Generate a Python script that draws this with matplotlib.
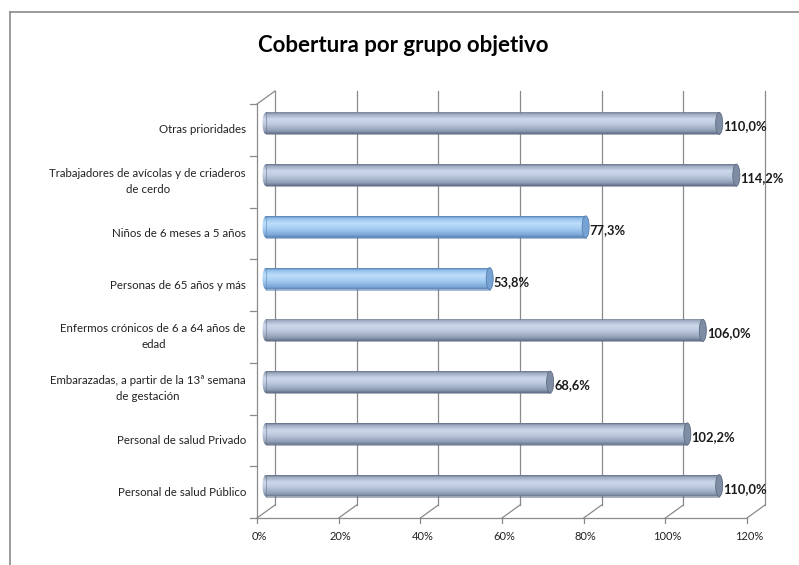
import matplotlib
matplotlib.use('Agg')
import matplotlib.pyplot as plt
import numpy as np
from matplotlib.patches import Rectangle, Ellipse, PathPatch
from matplotlib.path import Path
from matplotlib.lines import Line2D
from matplotlib.colors import LinearSegmentedColormap

title = "Cobertura por grupo objetivo"
categories = [
    "Personal de salud Público",
    "Personal de salud Privado",
    "Embarazadas, a partir de la 13ª semana\nde gestación",
    "Enfermos crónicos de 6 a 64 años de\nedad",
    "Personas de 65 años y más",
    "Niños de 6 meses a 5 años",
    "Trabajadores de avícolas y de criaderos\nde cerdo",
    "Otras prioridades",
]
values = [1.100, 1.022, 0.686, 1.060, 0.538, 0.773, 1.142, 1.100]
value_labels = ["110,0%", "102,2%", "68,6%", "106,0%", "53,8%", "77,3%", "114,2%", "110,0%"]
highlight = [False, False, False, False, True, True, False, False]
xticks = [0.0, 0.2, 0.4, 0.6, 0.8, 1.0, 1.2]
xtick_labels = ["0%", "20%", "40%", "60%", "80%", "100%", "120%"]

FONT = "Lato"
W, H = 799, 565
fig = plt.figure(figsize=(W / 100, H / 100), dpi=100)
fig.patch.set_facecolor("white")
ax = fig.add_axes([257 / W, 47 / H, 490 / W, 414 / H])
ax.set_xlim(0, 1.2)
ax.set_ylim(-0.5, len(categories) - 0.5)
ax.axis("off")

# pixel -> data conversion
inv = ax.transData.inverted()
p0 = ax.transData.transform((0, 0))
def px(dx, dy):
    d = inv.transform((p0[0] + dx, p0[1] + dy)) - inv.transform(p0)
    return d[0], d[1]

bdx, bdy = px(18, 13)      # back wall offset
mdx, mdy = px(9, 6.5)      # bar plane offset
edx, _ = px(13, 0)         # bar end (perspective) offset
ymin, ymax = -0.5, len(categories) - 0.5
gc = "#8a8a8a"
lw = 0.9

def line(xs, ys, **kw):
    ax.add_line(Line2D(xs, ys, color=kw.get("color", gc), lw=kw.get("lw", lw), clip_on=False, zorder=1))

# walls / grid
for t, lab in zip(xticks, xtick_labels):
    line([t, t + bdx], [ymin, ymin + bdy])
    line([t + bdx, t + bdx], [ymin + bdy, ymax + bdy])
    line([t, t], [ymin, ymin + px(0, -5)[1]])
    ax.text(t + px(2, 0)[0], ymin + px(0, -18)[1], lab, ha="center", va="center",
            fontsize=8, family=FONT, color="#222222")
line([0, 1.2], [ymin, ymin])
line([0, 0], [ymin, ymax])
line([0, bdx], [ymax, ymax + bdy])
tkx, _ = px(-7, 0)
for k in range(len(categories) + 1):
    line([tkx, 0], [ymin + k, ymin + k])

# bars
h = px(0, 22)[1]
capw = px(7, 0)[0]
gray = LinearSegmentedColormap.from_list("g", [(0, "#6a768d"), (0.1, "#a0adc3"), (0.32, "#ccd8ea"),
                                               (0.55, "#bdc9dd"), (0.85, "#92a0b8"), (1, "#616d85")])
blue = LinearSegmentedColormap.from_list("b", [(0, "#5a86b8"), (0.1, "#94c0ec"), (0.32, "#bedefa"),
                                               (0.55, "#a9cff3"), (0.85, "#7eaada"), (1, "#527aa9")])
grad = np.linspace(0, 1, 64).reshape(-1, 1)
for i, (v, hl) in enumerate(zip(values, highlight)):
    cmap = blue if hl else gray
    x0 = mdx
    x1 = v + edx
    yc = i + mdy
    r = Rectangle((x0, yc - h / 2), x1 - x0, h)
    rect = r.get_path().transformed(r.get_patch_transform())
    ell = Ellipse((x0, yc), capw, h)
    ellp = ell.get_path().transformed(ell.get_patch_transform())
    clip = Path.make_compound_path(rect, ellp)
    im = ax.imshow(grad, cmap=cmap, aspect="auto", interpolation="bilinear",
                   extent=(x0 - capw, x1, yc - h / 2, yc + h / 2), origin="upper", zorder=3)
    pp = PathPatch(clip, facecolor="none", edgecolor="none", transform=ax.transData)
    ax.add_patch(pp)
    im.set_clip_path(pp)
    ax.add_patch(Rectangle((x0, yc - h / 2), x1 - x0, h, fill=False,
                           edgecolor="#5f88b8" if hl else "#6a768c", lw=0.4, zorder=4))
    ax.add_patch(Ellipse((x1, yc), capw, h, facecolor="#76a3d4" if hl else "#7e8ca4",
                         edgecolor="#557eaf" if hl else "#5f6b80", lw=0.6, zorder=5))
    ax.text(x1 + capw / 2 + px(0.5, 0)[0], yc - px(0, 3)[1], value_labels[i], ha="left", va="center",
            fontsize=9.3, fontweight="bold", family=FONT, color="#1a1a1a", zorder=6)
    ax.text(px(-11, 0)[0], i, categories[i], ha="right", va="center", multialignment="center",
            fontsize=8.3, family=FONT, color="#222222", linespacing=1.55)

ax.set_xlim(0, 1.2)
ax.set_ylim(ymin, ymax)

fig.text(403 / W, 1 - 45 / H, title, ha="center", va="center", fontsize=16,
         fontweight="bold", family=FONT, color="black")

# chart frame
fig.add_artist(Line2D([10 / W, 10 / W], [0, 1 - 12 / H], color="#8a8a8a", lw=1.2))
fig.add_artist(Line2D([10 / W, 1], [1 - 12 / H, 1 - 12 / H], color="#8a8a8a", lw=1.2))

fig.savefig("out.png", dpi=100, facecolor="white")
